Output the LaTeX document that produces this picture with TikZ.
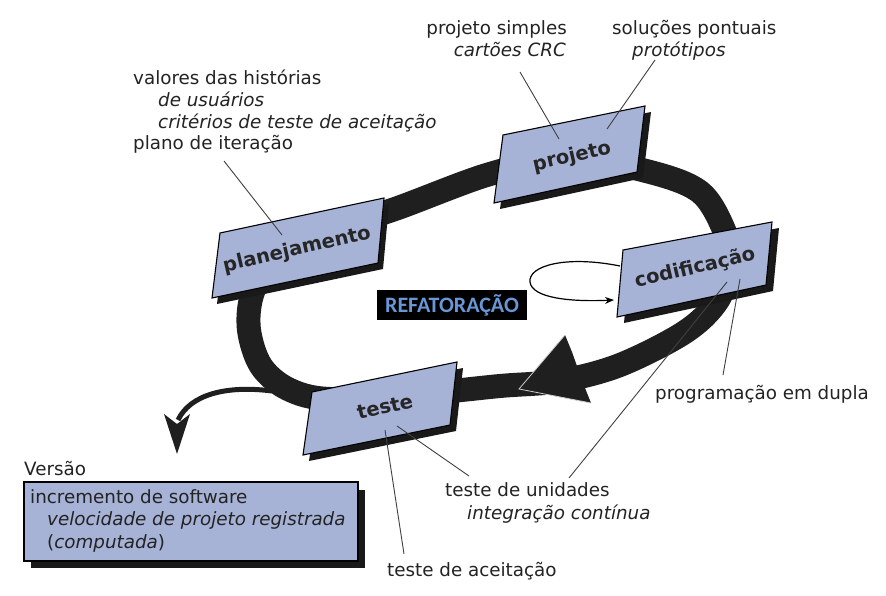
\documentclass[tikz,border=0pt]{standalone}
\usepackage{fontspec}
\setmainfont{DejaVu Sans}
\newfontfamily\reffont{Carlito}
\usetikzlibrary{arrows.meta}
\definecolor{boxblue}{RGB}{166,178,214}
\definecolor{txt}{RGB}{35,35,35}
\definecolor{refblue}{RGB}{104,150,214}
\begin{document}
\begin{tikzpicture}[x=1pt,y=-1pt,
  lbl/.style={font=\fontsize{18.3}{21.7}\selectfont, text=txt, inner sep=0pt, anchor=base west},
  lble/.style={lbl, anchor=base east},
  boxlbl/.style={font=\fontsize{19.5}{22}\selectfont\bfseries, text=black!85, rotate=13, inner sep=0pt},
  pline/.style={draw=black!75, line width=0.9pt},
  boxshape/.style={fill=boxblue, draw=black, line width=1.1pt},
  shadowfill/.style={fill=black!90},
  band/.style={draw=black!88, line width=24pt}
]
\useasboundingbox (0,0) rectangle (886,596);
\fill[white] (0,0) rectangle (886,596);

% ring band
\draw[band] plot[smooth cycle, tension=0.55] coordinates {(249,330) (252,295) (270,262) (310,237) (395,209) (490,174) (570,158) (650,172) (700,192) (724,230) (730,262) (718,300) (685,332) (620,365) (560,381) (500,386) (420,394) (330,399) (288,389) (261,366)};

% release arrow
\coordinate (relS) at (272,391);
\coordinate (relE) at (178,420);
\draw[black!88, line width=5pt] (relS) .. controls (225,385) and (190,395) .. (relE);
\fill[black!88] (177,454) -- (164,414) -- (177,424) -- (190,414) -- cycle;

% big arrowhead
\fill[black!88] (572,352) -- (565,335) -- (519,389) -- (591,403) -- (583,383) -- cycle;
\draw[gray!40, line width=0.8pt] (565,335) -- (519,389) -- (591,403);

% small loop arrow
\coordinate (loopS) at (620,266);
\coordinate (loopE) at (614,300);
\draw[black, line width=1.2pt, -{Stealth[length=9pt,width=7pt]}] (loopS) .. controls (565,255) and (528,266) .. (530,282) .. controls (532,298) and (570,302) .. (loopE);

% boxes
\fill[shadowfill] (225,239) -- (389,204) -- (383,269) -- (217,304) -- cycle;
\filldraw[boxshape] (220,233) -- (384,198) -- (378,263) -- (212,298) -- cycle;
\node[boxlbl] (plan) at (297,250) {planejamento};

\fill[shadowfill] (509,141) -- (651,112) -- (643,178) -- (500,209) -- cycle;
\filldraw[boxshape] (503,135) -- (645,106) -- (637,172) -- (494,203) -- cycle;
\node[boxlbl] (proj) at (572,157) {projeto};

\fill[shadowfill] (630,256) -- (779,228) -- (773,291) -- (624,323) -- cycle;
\filldraw[boxshape] (623,250) -- (772,222) -- (766,285) -- (617,317) -- cycle;
\node[boxlbl] (cod) at (695,268) {codificação};

\fill[shadowfill] (318,398) -- (463,368) -- (456,431) -- (309,461) -- cycle;
\filldraw[boxshape] (312,392) -- (457,362) -- (450,425) -- (303,455) -- cycle;
\node[boxlbl] (tst) at (385,407) {teste};

% refatoracao
\node[fill=black, text=refblue, font=\reffont\bfseries\fontsize{22}{22}\selectfont, inner sep=0pt, minimum width=150pt, minimum height=30pt] (ref) at (452,305) {REFATORAÇÃO};

% labels
\node[lbl] (t1) at (133,85) {valores das histórias};
\node[lbl] (t2) at (158,107) {\itshape de usuários};
\node[lbl] (t3) at (158,129) {\itshape critérios de teste de aceitação};
\node[lbl] (t4) at (133,150) {plano de iteração};
\node[lble] (p1) at (567,35) {projeto simples};
\node[lble] (p2) at (566,57) {\itshape cartões CRC};
\node[lbl] (s1) at (612,35) {soluções pontuais};
\node[lbl] (s2) at (632,57) {\itshape protótipos};
\node[lbl] (pd) at (655,399) {programação em dupla};
\node[lbl] (u1) at (445,496) {teste de unidades};
\node[lbl] (u2) at (467,519) {\itshape integração contínua};
\node[lbl] (ta) at (387,576) {teste de aceitação};
\node[lbl] (ver) at (24,475) {Versão};

\fill[shadowfill] (31,490) rectangle (365,568);
\filldraw[boxshape] (24,482) rectangle (358,561);
\node[lbl] (v1) at (30,503) {incremento de software};
\node[lbl] (v2) at (47,525) {\itshape velocidade de projeto registrada};
\node[lbl] (v3) at (47,548) {(\textit{computada})};

% connector lines
\coordinate (a1) at (224,161); \coordinate (a2) at (282,235);
\draw[pline] (a1) -- (a2);
\coordinate (b1) at (520,72); \coordinate (b2) at (559,139);
\draw[pline] (b1) -- (b2);
\coordinate (c1) at (655,60); \coordinate (c2) at (607,129);
\draw[pline] (c1) -- (c2);
\coordinate (d1) at (740,279); \coordinate (d2) at (723,375);
\draw[pline] (d1) -- (d2);
\coordinate (e1) at (727,282); \coordinate (e2) at (569,478);
\draw[pline] (e1) -- (e2);
\coordinate (f1) at (385,430); \coordinate (f2) at (404,554);
\draw[pline] (f1) -- (f2);
\coordinate (g1) at (397,426); \coordinate (g2) at (469,476);
\draw[pline] (g1) -- (g2);
\end{tikzpicture}
\end{document}
